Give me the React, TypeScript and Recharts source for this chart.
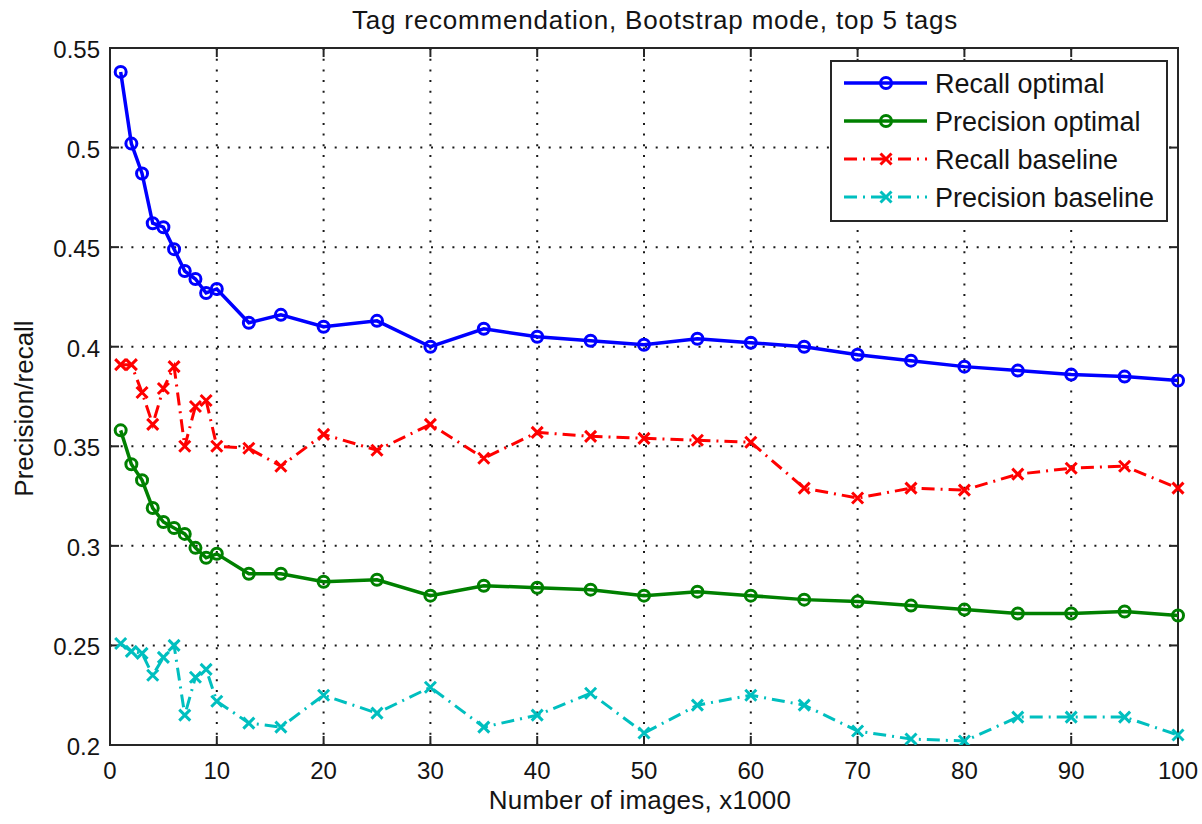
import React from 'react';
import { LineChart, Line, XAxis, YAxis, CartesianGrid, Legend, ReferenceLine, ReferenceArea } from 'recharts';

// Number of images (x1000) at which each configuration was evaluated
const imageCounts = [1, 2, 3, 4, 5, 6, 7, 8, 9, 10, 13, 16, 20, 25, 30, 35, 40, 45, 50, 55, 60, 65, 70, 75, 80, 85, 90, 95, 100];

const recallOptimal = [0.538, 0.502, 0.487, 0.462, 0.460, 0.449, 0.438, 0.434, 0.427, 0.429, 0.412, 0.416, 0.410, 0.413, 0.400, 0.409, 0.405, 0.403, 0.401, 0.404, 0.402, 0.400, 0.396, 0.393, 0.390, 0.388, 0.386, 0.385, 0.383];
const precisionOptimal = [0.358, 0.341, 0.333, 0.319, 0.312, 0.309, 0.306, 0.299, 0.294, 0.296, 0.286, 0.286, 0.282, 0.283, 0.275, 0.280, 0.279, 0.278, 0.275, 0.277, 0.275, 0.273, 0.272, 0.270, 0.268, 0.266, 0.266, 0.267, 0.265];
const recallBaseline = [0.391, 0.391, 0.377, 0.361, 0.379, 0.390, 0.350, 0.370, 0.373, 0.350, 0.349, 0.340, 0.356, 0.348, 0.361, 0.344, 0.357, 0.355, 0.354, 0.353, 0.352, 0.329, 0.324, 0.329, 0.328, 0.336, 0.339, 0.340, 0.329];
const precisionBaseline = [0.251, 0.247, 0.246, 0.235, 0.244, 0.250, 0.215, 0.234, 0.238, 0.222, 0.211, 0.209, 0.225, 0.216, 0.229, 0.209, 0.215, 0.226, 0.206, 0.220, 0.225, 0.220, 0.207, 0.203, 0.202, 0.214, 0.214, 0.214, 0.205];

const xTicks = [0, 10, 20, 30, 40, 50, 60, 70, 80, 90, 100];
const yTicks = [0.2, 0.25, 0.3, 0.35, 0.4, 0.45, 0.5, 0.55];
const yTickLabels = ['0.2', '0.25', '0.3', '0.35', '0.4', '0.45', '0.5', '0.55'];

const rows = imageCounts.map((x, i) => ({
  x,
  recallOpt: recallOptimal[i],
  precisionOpt: precisionOptimal[i],
  recallBase: recallBaseline[i],
  precisionBase: precisionBaseline[i],
}));

const FONT = '"Liberation Sans", Arial, Helvetica, sans-serif';
const INK = '#262626';
const TEXT = '#141414';
const DASH_DOT = '13 6 2 6';
const TICK_LEN = 9;

type Series = { key: string; name: string; color: string; marker: 'circle' | 'cross'; dash?: string; width: number };

const series: Series[] = [
  { key: 'recallOpt', name: 'Recall optimal', color: '#0000ff', marker: 'circle', width: 3.5 },
  { key: 'precisionOpt', name: 'Precision optimal', color: '#008000', marker: 'circle', width: 3.5 },
  { key: 'recallBase', name: 'Recall baseline', color: '#ff0000', marker: 'cross', dash: DASH_DOT, width: 3 },
  { key: 'precisionBase', name: 'Precision baseline', color: '#00bfbf', marker: 'cross', dash: DASH_DOT, width: 3 },
];

const Marker = ({ kind, cx, cy, color }: { kind: 'circle' | 'cross'; cx: number; cy: number; color: string }) => {
  if (kind === 'circle') {
    return <circle cx={cx} cy={cy} r={5.5} fill="none" stroke={color} strokeWidth={3} />;
  }
  const s = 5.5;
  return (
    <path
      d={`M${cx - s},${cy - s}L${cx + s},${cy + s}M${cx - s},${cy + s}L${cx + s},${cy - s}`}
      stroke={color}
      strokeWidth={3}
      fill="none"
    />
  );
};

const makeDot = (s: Series) => (p: any) => {
  if (p.cx == null || p.cy == null) return <g key={`${s.key}-${p.index}`} />;
  return (
    <g key={`${s.key}-${p.index}`}>
      <Marker kind={s.marker} cx={p.cx} cy={p.cy} color={s.color} />
    </g>
  );
};

// Bottom axis tick label (the tick marks themselves point inward, see below)
const XTick = (props: any) => {
  const { x, y, payload } = props;
  return (
    <text x={x} y={y + 32} textAnchor="middle" fontFamily={FONT} fontSize={24} fill={TEXT}>
      {payload.value}
    </text>
  );
};

// Left axis tick label
const YTick = (props: any) => {
  const { x, y, payload } = props;
  const idx = yTicks.findIndex((t) => Math.abs(t - payload.value) < 1e-9);
  const label = idx >= 0 ? yTickLabels[idx] : String(payload.value);
  return (
    <text x={x - 8} y={y + 10} textAnchor="end" fontFamily={FONT} fontSize={24} fill={TEXT}>
      {label}
    </text>
  );
};

// Inward tick marks on the bottom and top edges of the plot box
const VerticalTickMarks = (p: any) => {
  const x = p.x1;
  const top = Math.min(p.y1, p.y2);
  const bottom = Math.max(p.y1, p.y2);
  return (
    <g>
      <line x1={x} y1={bottom} x2={x} y2={bottom - TICK_LEN} stroke={INK} strokeWidth={2} />
      <line x1={x} y1={top} x2={x} y2={top + TICK_LEN} stroke={INK} strokeWidth={2} />
    </g>
  );
};

// Inward tick marks on the left and right edges of the plot box
const HorizontalTickMarks = (p: any) => {
  const y = p.y1;
  const left = Math.min(p.x1, p.x2);
  const right = Math.max(p.x1, p.x2);
  return (
    <g>
      <line x1={left} y1={y} x2={left + TICK_LEN} y2={y} stroke={INK} strokeWidth={2} />
      <line x1={right} y1={y} x2={right - TICK_LEN} y2={y} stroke={INK} strokeWidth={2} />
    </g>
  );
};

const XTitle = (props: any) => {
  const vb = props.viewBox || {};
  return (
    <text
      x={vb.x + vb.width / 2 - 4}
      y={vb.y + 64}
      textAnchor="middle"
      fontFamily={FONT}
      fontSize={26}
      letterSpacing={0.2}
      fill={TEXT}
    >
      Number of images, x1000
    </text>
  );
};

const YTitle = (props: any) => {
  const vb = props.viewBox || {};
  const cx = vb.x + 33;
  const cy = vb.y + vb.height / 2 + 12;
  return (
    <text
      x={cx}
      y={cy}
      textAnchor="middle"
      transform={`rotate(-90, ${cx}, ${cy})`}
      fontFamily={FONT}
      fontSize={26}
      fill={TEXT}
    >
      Precision/recall
    </text>
  );
};

const LegendBox = () => (
  <svg width={338} height={162} style={{ display: 'block' }}>
    <rect x={1} y={1} width={336} height={160} fill="#ffffff" stroke={INK} strokeWidth={2} />
    {series.map((s, i) => {
      const cy = 23 + i * 38;
      return (
        <g key={s.key}>
          <line x1={14} x2={97} y1={cy} y2={cy} stroke={s.color} strokeWidth={s.width} strokeDasharray={s.dash} />
          <Marker kind={s.marker} cx={56} cy={cy} color={s.color} />
          <text x={105} y={cy + 10} fontFamily={FONT} fontSize={27} fill={TEXT}>
            {s.name}
          </text>
        </g>
      );
    })}
  </svg>
);

export default function App() {
  return (
    <div style={{ position: 'absolute', left: 0, top: 0, width: 1202, height: 824, background: '#ffffff' }}>
      <LineChart width={1202} height={824} data={rows} margin={{ top: 48, right: 24, bottom: 0, left: 0 }}>
        <CartesianGrid stroke="#1a1a1a" strokeWidth={2} strokeDasharray="2 8.7" />
        <XAxis
          dataKey="x"
          type="number"
          domain={[0, 100]}
          ticks={xTicks}
          interval={0}
          height={79}
          tickSize={0}
          tickLine={false}
          tick={<XTick />}
          axisLine={{ stroke: INK, strokeWidth: 2 }}
          label={<XTitle />}
        />
        <YAxis
          type="number"
          domain={[0.2, 0.55]}
          ticks={yTicks}
          interval={0}
          width={110}
          tickSize={0}
          tickLine={false}
          tick={<YTick />}
          axisLine={{ stroke: INK, strokeWidth: 2 }}
          allowDataOverflow
          label={<YTitle />}
        />
        <ReferenceArea x1={0} x2={100} y1={0.2} y2={0.55} fill="none" stroke={INK} strokeWidth={2} />
        {xTicks.map((t) => (
          <ReferenceLine key={`xt-${t}`} x={t} stroke="none" shape={(p: any) => <VerticalTickMarks {...p} />} />
        ))}
        {yTicks.map((t) => (
          <ReferenceLine key={`yt-${t}`} y={t} stroke="none" shape={(p: any) => <HorizontalTickMarks {...p} />} />
        ))}
        {series.map((s) => (
          <Line
            key={s.key}
            dataKey={s.key}
            name={s.name}
            type="linear"
            stroke={s.color}
            strokeWidth={s.width}
            strokeDasharray={s.dash}
            dot={makeDot(s)}
            activeDot={false}
            isAnimationActive={false}
          />
        ))}
        <Legend
          layout="vertical"
          align="center"
          verticalAlign="middle"
          wrapperStyle={{ left: 830, top: 60, width: 338, height: 162 }}
          content={() => <LegendBox />}
        />
      </LineChart>
      <svg width={1202} height={48} style={{ position: 'absolute', left: 0, top: 0, pointerEvents: 'none' }}>
        <text x={655} y={29} textAnchor="middle" fontFamily={FONT} fontSize={26} letterSpacing={0.8} fill={TEXT}>
          Tag recommendation, Bootstrap mode, top 5 tags
        </text>
      </svg>
    </div>
  );
}
